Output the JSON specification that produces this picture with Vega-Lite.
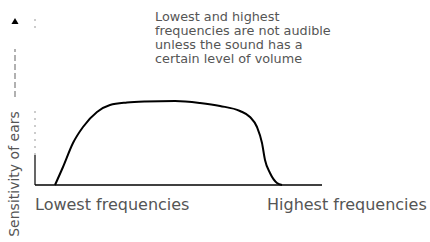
{
  "$schema": "https://vega.github.io/schema/vega-lite/v6.json",
  "width": 430,
  "height": 242,
  "autosize": {"type": "fit", "contains": "padding"},
  "padding": 0,
  "background": "white",
  "config": {"view": {"stroke": null}},
  "datasets": {
    "curve": [
      {"f": 20, "s": 0}, {"f": 28, "s": 18}, {"f": 38, "s": 42}, {"f": 48, "s": 58},
      {"f": 62, "s": 73}, {"f": 75, "s": 80}, {"f": 92, "s": 82.5}, {"f": 110, "s": 83.5},
      {"f": 140, "s": 84}, {"f": 165, "s": 82}, {"f": 185, "s": 79}, {"f": 205, "s": 74},
      {"f": 215, "s": 68}, {"f": 222, "s": 58}, {"f": 227, "s": 42}, {"f": 230, "s": 25},
      {"f": 235, "s": 12}, {"f": 242, "s": 2}, {"f": 247, "s": 0}
    ],
    "note": [
      {"line": "Lowest and highest", "x": 120, "y": 164},
      {"line": "frequencies are not audible", "x": 120, "y": 150},
      {"line": "unless the sound has a", "x": 120, "y": 136},
      {"line": "certain level of volume", "x": 120, "y": 122}
    ],
    "ends": [
      {"label": "Lowest frequencies", "x": 0, "y": -25},
      {"label": "Highest frequencies", "x": 232, "y": -25}
    ]
  },
  "layer": [
    {
      "data": {"values": [{"x1": 0, "x2": 287, "y": 0}]},
      "mark": {"type": "rule", "color": "black", "strokeWidth": 1.5},
      "encoding": {
        "x": {"field": "x1", "type": "quantitative", "scale": {"domain": [-35, 395], "nice": false, "zero": false}, "axis": null},
        "x2": {"field": "x2"},
        "y": {"field": "y", "type": "quantitative", "scale": {"domain": [-57, 185], "nice": false, "zero": false}, "axis": null}
      }
    },
    {
      "data": {"values": [{"x": 0, "y1": 0, "y2": 30}]},
      "mark": {"type": "rule", "color": "black", "strokeWidth": 1.2},
      "encoding": {
        "x": {"field": "x", "type": "quantitative"},
        "y": {"field": "y1", "type": "quantitative"},
        "y2": {"field": "y2"}
      }
    },
    {
      "data": {"values": [{"x": 0, "y1": 30, "y2": 75}, {"x": 0, "y1": 157, "y2": 168}]},
      "mark": {"type": "rule", "color": "#999", "strokeWidth": 1, "strokeDash": [2, 5]},
      "encoding": {
        "x": {"field": "x", "type": "quantitative"},
        "y": {"field": "y1", "type": "quantitative"},
        "y2": {"field": "y2"}
      }
    },
    {
      "data": {"name": "curve"},
      "mark": {"type": "line", "color": "black", "strokeWidth": 2, "interpolate": "monotone"},
      "encoding": {
        "x": {"field": "f", "type": "quantitative"},
        "y": {"field": "s", "type": "quantitative"}
      }
    },
    {
      "data": {"values": [{"x": -20, "y1": 88, "y2": 136}]},
      "mark": {"type": "rule", "color": "#888", "strokeWidth": 1.3, "strokeDash": [6, 3]},
      "encoding": {
        "x": {"field": "x", "type": "quantitative"},
        "y": {"field": "y1", "type": "quantitative"},
        "y2": {"field": "y2"}
      }
    },
    {
      "data": {"values": [{"x": -20, "y": 164}]},
      "mark": {"type": "point", "shape": "triangle-up", "filled": true, "color": "black", "size": 50, "opacity": 1},
      "encoding": {
        "x": {"field": "x", "type": "quantitative"},
        "y": {"field": "y", "type": "quantitative"}
      }
    },
    {
      "data": {"values": [{"t": "Sensitivity of ears", "x": -20, "y": 11}]},
      "mark": {"type": "text", "angle": 270, "align": "center", "baseline": "middle", "font": "DejaVu Sans", "fontSize": 14, "color": "#555"},
      "encoding": {
        "x": {"field": "x", "type": "quantitative"},
        "y": {"field": "y", "type": "quantitative"},
        "text": {"field": "t"}
      }
    },
    {
      "data": {"name": "note"},
      "mark": {"type": "text", "align": "left", "baseline": "alphabetic", "font": "DejaVu Sans", "fontSize": 12.8, "color": "#555"},
      "encoding": {
        "x": {"field": "x", "type": "quantitative"},
        "y": {"field": "y", "type": "quantitative"},
        "text": {"field": "line"}
      }
    },
    {
      "data": {"name": "ends"},
      "mark": {"type": "text", "align": "left", "baseline": "alphabetic", "font": "DejaVu Sans", "fontSize": 16, "color": "#555"},
      "encoding": {
        "x": {"field": "x", "type": "quantitative"},
        "y": {"field": "y", "type": "quantitative"},
        "text": {"field": "label"}
      }
    }
  ]
}
